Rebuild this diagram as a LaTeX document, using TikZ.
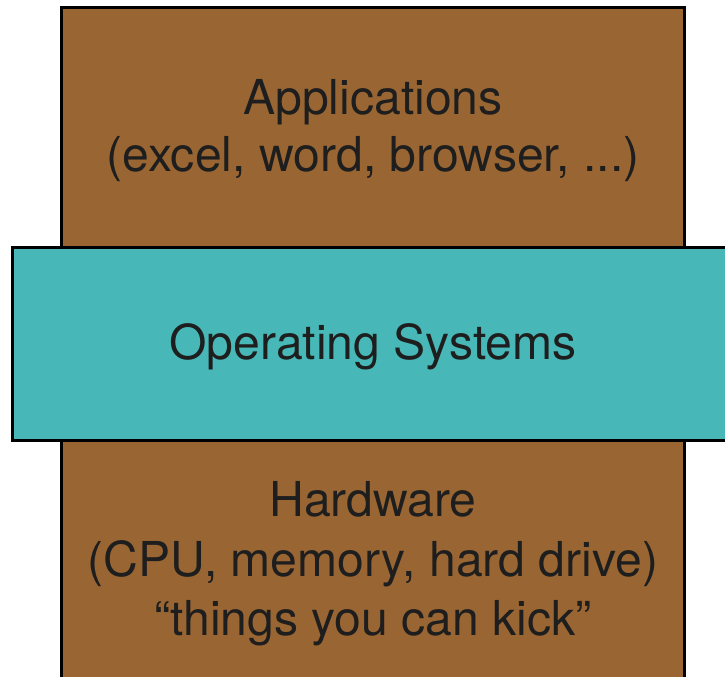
\documentclass[tikz,border=0pt]{standalone}
\usepackage{fontspec}
\setmainfont{TeX Gyre Heros}
\definecolor{layerbrown}{RGB}{153,102,51}
\definecolor{layerteal}{RGB}{71,184,183}
\definecolor{inkgray}{RGB}{30,30,30}
\begin{document}
\begin{tikzpicture}[x=0.75pt,y=-0.75pt,
  layer/.style={draw=black,line width=2.4pt},
  label/.style={anchor=base,inner sep=0pt,text=inkgray,
    font=\fontsize{36.1}{45}\selectfont}]
\useasboundingbox (0,0) rectangle (725,676);
\clip (0,0) rectangle (725,676);
% hardware/applications column behind the OS band
\draw[layer,fill=layerbrown] (61.5,7.5) rectangle (684.5,720);
% operating system band across the middle
\draw[layer,fill=layerteal] (12.5,247.5) rectangle (760,440.5);
\node[label] (apps)  at (373,114.3) {Applications};
\node[label] (appex) at (373,171.7) {(excel, word, browser, ...)};
\node[label] (os)    at (373,359.3) {Operating Systems};
\node[label] (hw)    at (373,516.7) {Hardware};
\node[label] (hwex)  at (373,576.7) {(CPU, memory, hard drive)};
\node[label] (kick)  at (373,635)   {“things you can kick”};
\end{tikzpicture}
\end{document}
